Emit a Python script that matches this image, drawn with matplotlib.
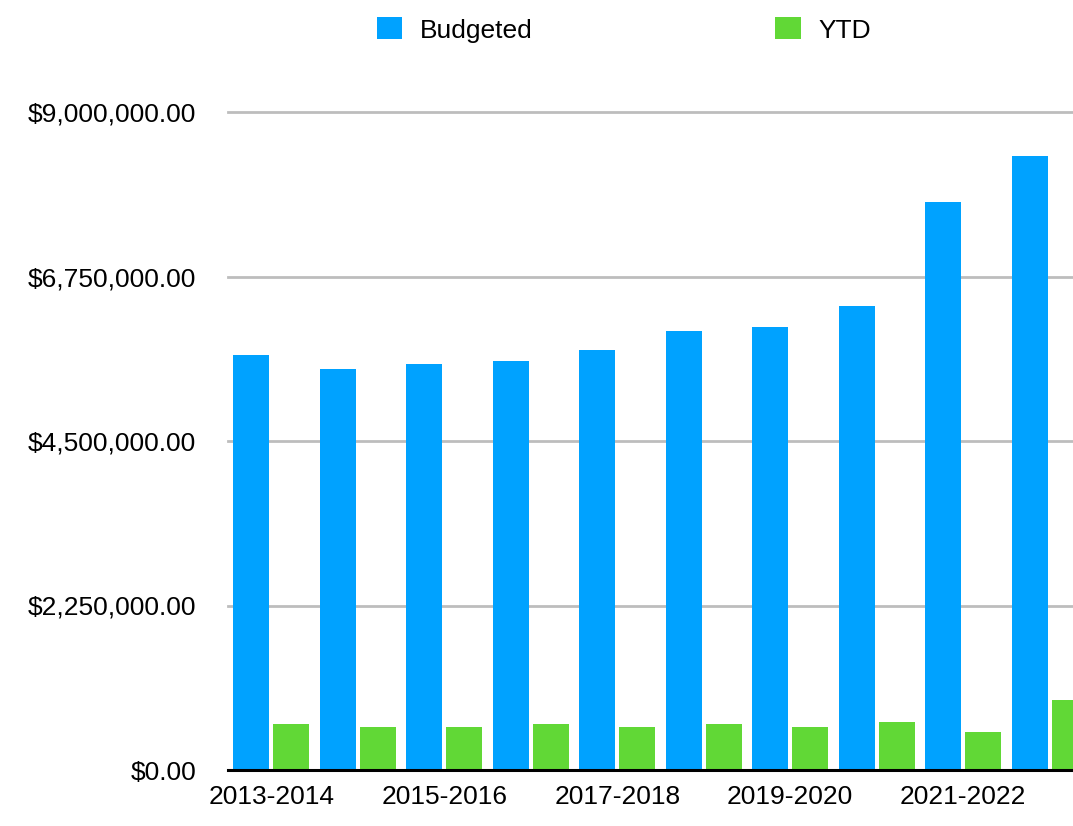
import matplotlib
matplotlib.use("Agg")
import matplotlib.pyplot as plt
import numpy as np
from matplotlib.patches import Patch
from matplotlib.ticker import FuncFormatter, FixedLocator

plt.rcParams['font.family'] = ['Liberation Sans', 'DejaVu Sans']

categories = ["2013-2014", "2014-2015", "2015-2016", "2016-2017", "2017-2018",
              "2018-2019", "2019-2020", "2020-2021", "2021-2022", "2022-2023"]
budgeted = [5670000, 5480000, 5560000, 5590000, 5740000,
            6000000, 6065000, 6350000, 7770000, 8400000]
ytd = [628000, 590000, 590000, 628000, 590000,
       628000, 590000, 656000, 520000, 955000]
y_ticks = [0, 2250000, 4500000, 6750000, 9000000]

BLUE = "#00A2FF"
GREEN = "#61D836"

fig = plt.figure(figsize=(10.73, 8.26), dpi=100)
W, H = 1073, 826
left_px, right_px = 228, 1093
top_px, bot_px = 112, 770
ax = fig.add_axes([left_px / W, 1 - bot_px / H, (right_px - left_px) / W, (bot_px - top_px) / H])

x = np.arange(len(categories))
bw = 0.416
off = 0.231
ax.bar(x - off, budgeted, width=bw, color=BLUE, zorder=3)
ax.bar(x + off, ytd, width=bw, color=GREEN, zorder=3)

ax.set_xlim(-0.5, len(categories) - 0.5)
ax.set_ylim(0, 9000000)

ax.yaxis.set_major_locator(FixedLocator(y_ticks))
ax.yaxis.set_major_formatter(FuncFormatter(lambda v, p: "${:,.2f}".format(v)))
ax.set_xticks(x[::2])
ax.set_xticklabels(categories[::2])

ax.tick_params(axis='y', length=0, pad=23, labelsize=19)
ax.tick_params(axis='x', length=0, pad=11, labelsize=19)

for s in ['top', 'right', 'left']:
    ax.spines[s].set_visible(False)
ax.spines['bottom'].set_color('black')
ax.spines['bottom'].set_linewidth(2.2)
ax.spines['bottom'].set_zorder(5)

ax.yaxis.grid(True, color='#bdbdbd', linewidth=2.0, zorder=0)
for gl in ax.get_ygridlines():
    gl.set_clip_on(False)
ax.set_axisbelow(True)

handles = [Patch(facecolor=BLUE, label="Budgeted"), Patch(facecolor=GREEN, label="YTD")]
fig.legend(handles=handles, loc='center', bbox_to_anchor=(624 / W, 1 - 30 / H), ncol=2,
           frameon=False, fontsize=19, handlelength=0.95, handleheight=0.9,
           handletextpad=0.68, columnspacing=9.2)

fig.savefig("out.png", dpi=100)
